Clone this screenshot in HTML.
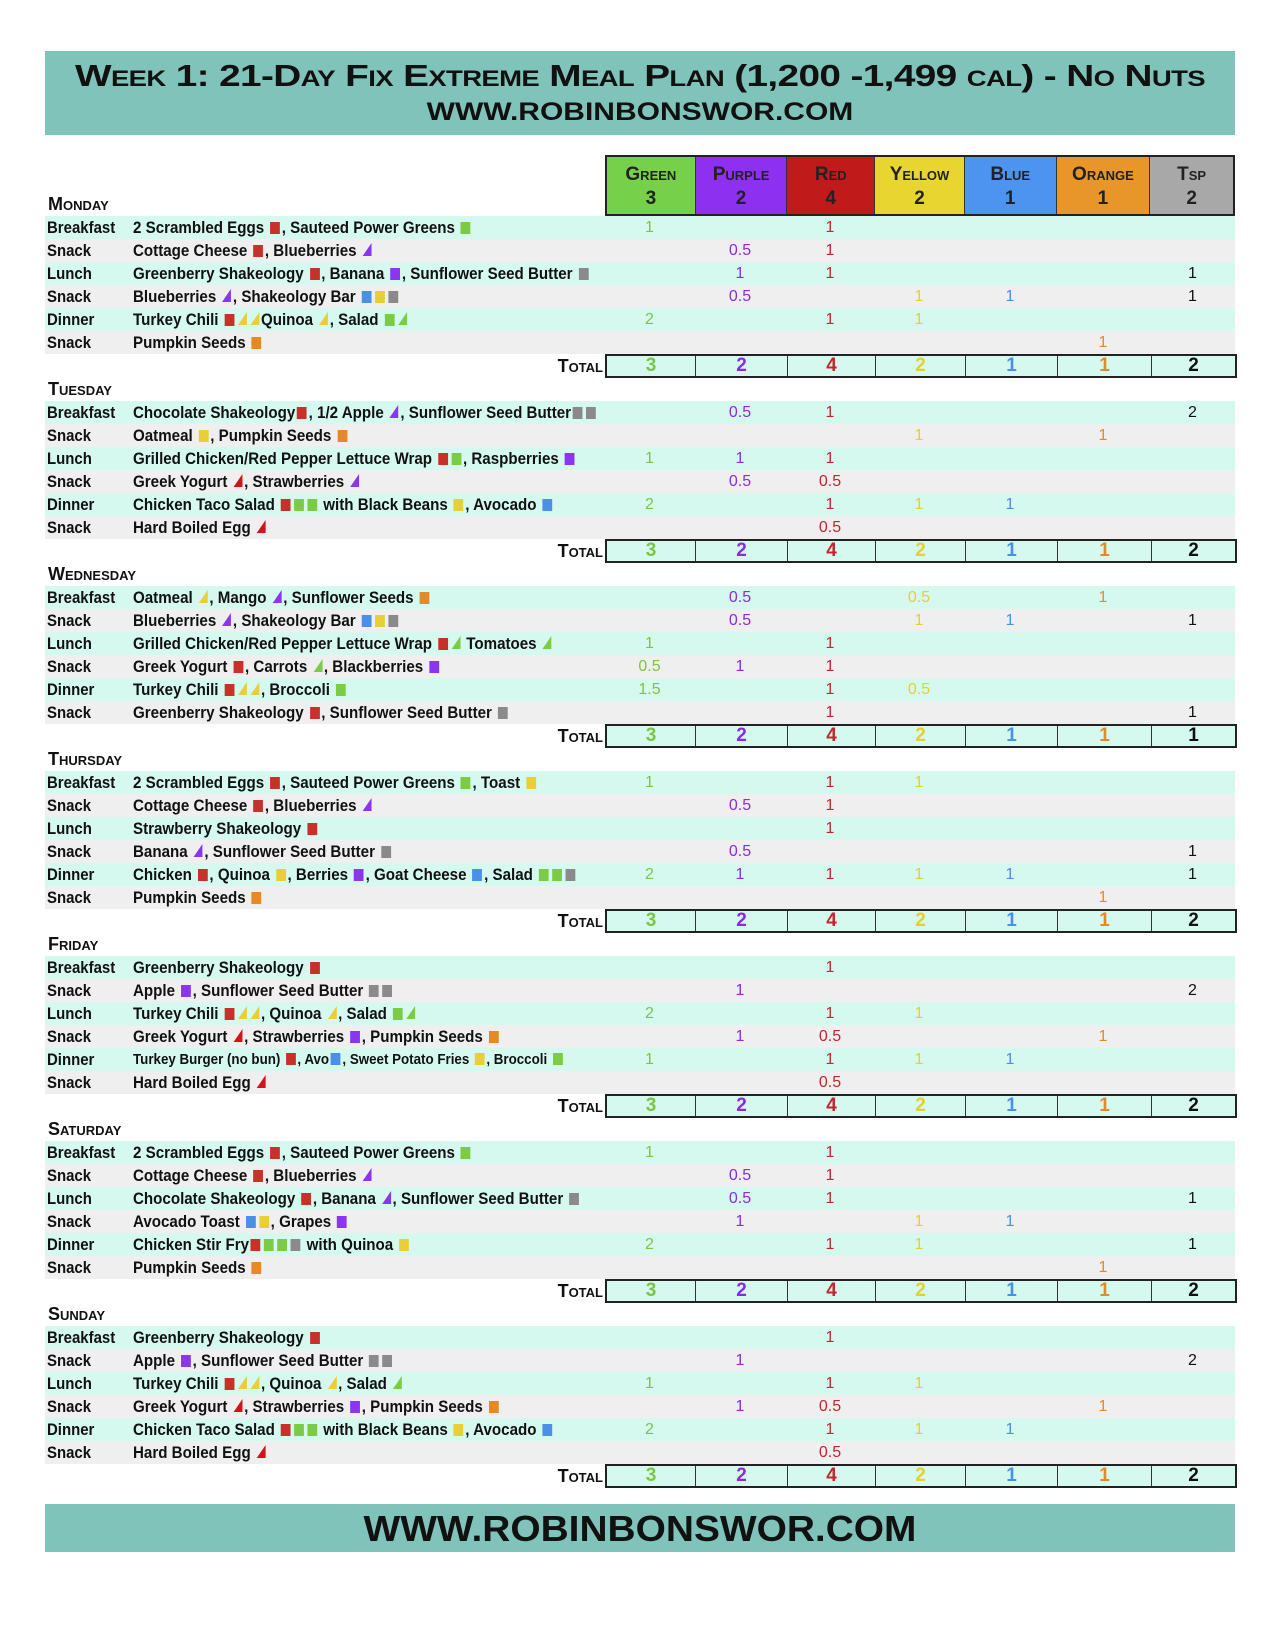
<!DOCTYPE html>
<html><head><meta charset="utf-8"><style>
*{margin:0;padding:0;box-sizing:border-box}
body{width:1275px;height:1650px;background:#fff;position:relative;font-family:"Liberation Sans",sans-serif;overflow:hidden}
.hd{position:absolute;left:45px;top:51px;width:1190px;height:84px;background:#80c3ba;text-align:center;color:#111;font-family:"Liberation Sans",sans-serif;font-weight:bold;font-variant:small-caps}
.hd .a{font-size:31px;line-height:34px;padding-top:8px;letter-spacing:-0.5px;white-space:nowrap;transform:scaleX(1.25)}
.hd .b{font-size:25px;line-height:30px;padding-top:4px;transform:scaleX(1.2)}
.ft{position:absolute;left:45px;top:1504px;width:1190px;height:48px;background:#80c3ba;text-align:center;font-family:"Liberation Sans",sans-serif;font-weight:bold;font-size:36px;line-height:50px;color:#111}
.ft span{display:inline-block;transform:scaleX(1.08)}
.ch{position:absolute;left:605px;top:155px;width:630px;height:61px;display:flex;border:2px solid #222}
.ch div{height:100%;text-align:center;font-family:"Liberation Sans",sans-serif;font-weight:bold;font-variant:small-caps;font-size:19px;line-height:24px;padding-top:6px;color:#222;border-right:1px solid #333}
.ch div:last-child{border-right:none}
#tbl{position:absolute;left:45px;top:193px;width:1190px}
.d{height:23px;font-family:"Liberation Sans",sans-serif;font-weight:bold;font-variant:small-caps;font-size:18px;line-height:23px;padding-left:3px;color:#111}
.r{height:23px;position:relative;font-size:17px;font-weight:bold;line-height:23px;color:#111}
.m{background:#d6f9ef}.y{background:#efefef}
.r .l{position:absolute;left:2px;transform:scaleX(0.88);transform-origin:0 50%}
.r .tx{position:absolute;left:88px;white-space:nowrap;transform:scaleX(0.89);transform-origin:0 50%}
.r .tx.s{font-size:15px}
.cs{position:absolute;left:560px;top:0;display:flex;height:23px}
.cs span,.tt span{display:block;text-align:center}
.w1{width:89px}.w2{width:92px}.w3{width:88px}.w4{width:90px}.w5{width:92px}.w6{width:94px}.w7{width:85px}
.cs span{font-weight:normal;font-size:16px}
.G{color:#7cc443}.P{color:#8a2be2}.R{color:#c1272d}.Y{color:#e6cf2e}.B{color:#4a8fe8}.O{color:#e4892a}.K{color:#111}
.tr{height:24px;position:relative}
.tr .lab{position:absolute;right:632px;top:0;font-family:"Liberation Sans",sans-serif;font-weight:bold;font-variant:small-caps;font-size:18px;line-height:24px;color:#111}
.tt{position:absolute;left:560px;top:0;height:24px;display:flex;border:2px solid #222;background:#d6f9ef}
.tt span{border-right:1px solid #333;font-family:"Liberation Sans",sans-serif;font-weight:bold;font-size:19px;line-height:20px}
.tt span:last-child{border-right:none}
i{display:inline-block;width:11px;height:12px;margin:0 2px;vertical-align:-1px}
i.r_{background:#c8312a}i.g_{background:#7ccb45}i.p_{background:#8a35f0}i.b_{background:#4a8fe8}i.y_{background:#e8cf35}i.o_{background:#e4892a}i.x_{background:#8a8a8a}
em.q{display:inline-block;width:0;height:0;border-left:10px solid transparent;border-bottom:13px solid;margin:0 2px;vertical-align:0}
em.tp{border-bottom-color:#8a35f0}em.ty{border-bottom-color:#e8cf35}em.tg{border-bottom-color:#7ccb45}em.tr_{border-bottom-color:#d0141c}
</style></head><body>
<div class="hd"><div class="a">Week 1: 21-Day Fix Extreme Meal Plan (1,200 -1,499 cal) - No Nuts</div><div class="b">WWW.ROBINBONSWOR.COM</div></div>
<div class="ch"><div class="w1" style="background:#77d04a">Green<br>3</div><div class="w2" style="background:#8e30f0">Purple<br>2</div><div class="w3" style="background:#c11a1a">Red<br>4</div><div class="w4" style="background:#e8d52f">Yellow<br>2</div><div class="w5" style="background:#4d94f0">Blue<br>1</div><div class="w6" style="background:#e8962a">Orange<br>1</div><div class="w7" style="background:#a8a8a8;width:83px">Tsp<br>2</div></div>
<div id="tbl">
<div class="d">Monday</div>
<div class="r m"><span class="l">Breakfast</span><span class="tx">2 Scrambled Eggs <i class="r_"></i>, Sauteed Power Greens <i class="g_"></i></span><div class="cs"><span class="w1 G">1</span><span class="w2"></span><span class="w3 R">1</span><span class="w4"></span><span class="w5"></span><span class="w6"></span><span class="w7"></span></div></div>
<div class="r y"><span class="l">Snack</span><span class="tx">Cottage Cheese <i class="r_"></i>, Blueberries <em class="q tp"></em></span><div class="cs"><span class="w1"></span><span class="w2 P">0.5</span><span class="w3 R">1</span><span class="w4"></span><span class="w5"></span><span class="w6"></span><span class="w7"></span></div></div>
<div class="r m"><span class="l">Lunch</span><span class="tx">Greenberry Shakeology <i class="r_"></i>, Banana <i class="p_"></i>, Sunflower Seed Butter <i class="x_"></i></span><div class="cs"><span class="w1"></span><span class="w2 P">1</span><span class="w3 R">1</span><span class="w4"></span><span class="w5"></span><span class="w6"></span><span class="w7 K">1</span></div></div>
<div class="r y"><span class="l">Snack</span><span class="tx">Blueberries <em class="q tp"></em>, Shakeology Bar <i class="b_"></i><i class="y_"></i><i class="x_"></i></span><div class="cs"><span class="w1"></span><span class="w2 P">0.5</span><span class="w3"></span><span class="w4 Y">1</span><span class="w5 B">1</span><span class="w6"></span><span class="w7 K">1</span></div></div>
<div class="r m"><span class="l">Dinner</span><span class="tx">Turkey Chili <i class="r_"></i><em class="q ty"></em><em class="q ty"></em>Quinoa <em class="q ty"></em>, Salad <i class="g_"></i><em class="q tg"></em></span><div class="cs"><span class="w1 G">2</span><span class="w2"></span><span class="w3 R">1</span><span class="w4 Y">1</span><span class="w5"></span><span class="w6"></span><span class="w7"></span></div></div>
<div class="r y"><span class="l">Snack</span><span class="tx">Pumpkin Seeds <i class="o_"></i></span><div class="cs"><span class="w1"></span><span class="w2"></span><span class="w3"></span><span class="w4"></span><span class="w5"></span><span class="w6 O">1</span><span class="w7"></span></div></div>
<div class="tr"><span class="lab">Total</span><div class="tt"><span class="w1 G">3</span><span class="w2 P">2</span><span class="w3 R">4</span><span class="w4 Y">2</span><span class="w5 B">1</span><span class="w6 O">1</span><span class="w7 K" style="width:83px">2</span></div></div>

<div class="d">Tuesday</div>
<div class="r m"><span class="l">Breakfast</span><span class="tx">Chocolate Shakeology<i class="r_"></i>, 1/2 Apple <em class="q tp"></em>, Sunflower Seed Butter<i class="x_"></i><i class="x_"></i></span><div class="cs"><span class="w1"></span><span class="w2 P">0.5</span><span class="w3 R">1</span><span class="w4"></span><span class="w5"></span><span class="w6"></span><span class="w7 K">2</span></div></div>
<div class="r y"><span class="l">Snack</span><span class="tx">Oatmeal <i class="y_"></i>, Pumpkin Seeds <i class="o_"></i></span><div class="cs"><span class="w1"></span><span class="w2"></span><span class="w3"></span><span class="w4 Y">1</span><span class="w5"></span><span class="w6 O">1</span><span class="w7"></span></div></div>
<div class="r m"><span class="l">Lunch</span><span class="tx">Grilled Chicken/Red Pepper Lettuce Wrap <i class="r_"></i><i class="g_"></i>, Raspberries <i class="p_"></i></span><div class="cs"><span class="w1 G">1</span><span class="w2 P">1</span><span class="w3 R">1</span><span class="w4"></span><span class="w5"></span><span class="w6"></span><span class="w7"></span></div></div>
<div class="r y"><span class="l">Snack</span><span class="tx">Greek Yogurt <em class="q tr_"></em>, Strawberries <em class="q tp"></em></span><div class="cs"><span class="w1"></span><span class="w2 P">0.5</span><span class="w3 R">0.5</span><span class="w4"></span><span class="w5"></span><span class="w6"></span><span class="w7"></span></div></div>
<div class="r m"><span class="l">Dinner</span><span class="tx">Chicken Taco Salad <i class="r_"></i><i class="g_"></i><i class="g_"></i> with Black Beans <i class="y_"></i>, Avocado <i class="b_"></i></span><div class="cs"><span class="w1 G">2</span><span class="w2"></span><span class="w3 R">1</span><span class="w4 Y">1</span><span class="w5 B">1</span><span class="w6"></span><span class="w7"></span></div></div>
<div class="r y"><span class="l">Snack</span><span class="tx">Hard Boiled Egg <em class="q tr_"></em></span><div class="cs"><span class="w1"></span><span class="w2"></span><span class="w3 R">0.5</span><span class="w4"></span><span class="w5"></span><span class="w6"></span><span class="w7"></span></div></div>
<div class="tr"><span class="lab">Total</span><div class="tt"><span class="w1 G">3</span><span class="w2 P">2</span><span class="w3 R">4</span><span class="w4 Y">2</span><span class="w5 B">1</span><span class="w6 O">1</span><span class="w7 K" style="width:83px">2</span></div></div>

<div class="d">Wednesday</div>
<div class="r m"><span class="l">Breakfast</span><span class="tx">Oatmeal <em class="q ty"></em>, Mango <em class="q tp"></em>, Sunflower Seeds <i class="o_"></i></span><div class="cs"><span class="w1"></span><span class="w2 P">0.5</span><span class="w3"></span><span class="w4 Y">0.5</span><span class="w5"></span><span class="w6 O">1</span><span class="w7"></span></div></div>
<div class="r y"><span class="l">Snack</span><span class="tx">Blueberries <em class="q tp"></em>, Shakeology Bar <i class="b_"></i><i class="y_"></i><i class="x_"></i></span><div class="cs"><span class="w1"></span><span class="w2 P">0.5</span><span class="w3"></span><span class="w4 Y">1</span><span class="w5 B">1</span><span class="w6"></span><span class="w7 K">1</span></div></div>
<div class="r m"><span class="l">Lunch</span><span class="tx">Grilled Chicken/Red Pepper Lettuce Wrap <i class="r_"></i><em class="q tg"></em> Tomatoes <em class="q tg"></em></span><div class="cs"><span class="w1 G">1</span><span class="w2"></span><span class="w3 R">1</span><span class="w4"></span><span class="w5"></span><span class="w6"></span><span class="w7"></span></div></div>
<div class="r y"><span class="l">Snack</span><span class="tx">Greek Yogurt <i class="r_"></i>, Carrots <em class="q tg"></em>, Blackberries <i class="p_"></i></span><div class="cs"><span class="w1 G">0.5</span><span class="w2 P">1</span><span class="w3 R">1</span><span class="w4"></span><span class="w5"></span><span class="w6"></span><span class="w7"></span></div></div>
<div class="r m"><span class="l">Dinner</span><span class="tx">Turkey Chili <i class="r_"></i><em class="q ty"></em><em class="q ty"></em>, Broccoli <i class="g_"></i></span><div class="cs"><span class="w1 G">1.5</span><span class="w2"></span><span class="w3 R">1</span><span class="w4 Y">0.5</span><span class="w5"></span><span class="w6"></span><span class="w7"></span></div></div>
<div class="r y"><span class="l">Snack</span><span class="tx">Greenberry Shakeology <i class="r_"></i>, Sunflower Seed Butter <i class="x_"></i></span><div class="cs"><span class="w1"></span><span class="w2"></span><span class="w3 R">1</span><span class="w4"></span><span class="w5"></span><span class="w6"></span><span class="w7 K">1</span></div></div>
<div class="tr"><span class="lab">Total</span><div class="tt"><span class="w1 G">3</span><span class="w2 P">2</span><span class="w3 R">4</span><span class="w4 Y">2</span><span class="w5 B">1</span><span class="w6 O">1</span><span class="w7 K" style="width:83px">1</span></div></div>

<div class="d">Thursday</div>
<div class="r m"><span class="l">Breakfast</span><span class="tx">2 Scrambled Eggs <i class="r_"></i>, Sauteed Power Greens <i class="g_"></i>, Toast <i class="y_"></i></span><div class="cs"><span class="w1 G">1</span><span class="w2"></span><span class="w3 R">1</span><span class="w4 Y">1</span><span class="w5"></span><span class="w6"></span><span class="w7"></span></div></div>
<div class="r y"><span class="l">Snack</span><span class="tx">Cottage Cheese <i class="r_"></i>, Blueberries <em class="q tp"></em></span><div class="cs"><span class="w1"></span><span class="w2 P">0.5</span><span class="w3 R">1</span><span class="w4"></span><span class="w5"></span><span class="w6"></span><span class="w7"></span></div></div>
<div class="r m"><span class="l">Lunch</span><span class="tx">Strawberry Shakeology <i class="r_"></i></span><div class="cs"><span class="w1"></span><span class="w2"></span><span class="w3 R">1</span><span class="w4"></span><span class="w5"></span><span class="w6"></span><span class="w7"></span></div></div>
<div class="r y"><span class="l">Snack</span><span class="tx">Banana <em class="q tp"></em>, Sunflower Seed Butter <i class="x_"></i></span><div class="cs"><span class="w1"></span><span class="w2 P">0.5</span><span class="w3"></span><span class="w4"></span><span class="w5"></span><span class="w6"></span><span class="w7 K">1</span></div></div>
<div class="r m"><span class="l">Dinner</span><span class="tx">Chicken <i class="r_"></i>, Quinoa <i class="y_"></i>, Berries <i class="p_"></i>, Goat Cheese <i class="b_"></i>, Salad <i class="g_"></i><i class="g_"></i><i class="x_"></i></span><div class="cs"><span class="w1 G">2</span><span class="w2 P">1</span><span class="w3 R">1</span><span class="w4 Y">1</span><span class="w5 B">1</span><span class="w6"></span><span class="w7 K">1</span></div></div>
<div class="r y"><span class="l">Snack</span><span class="tx">Pumpkin Seeds <i class="o_"></i></span><div class="cs"><span class="w1"></span><span class="w2"></span><span class="w3"></span><span class="w4"></span><span class="w5"></span><span class="w6 O">1</span><span class="w7"></span></div></div>
<div class="tr"><span class="lab">Total</span><div class="tt"><span class="w1 G">3</span><span class="w2 P">2</span><span class="w3 R">4</span><span class="w4 Y">2</span><span class="w5 B">1</span><span class="w6 O">1</span><span class="w7 K" style="width:83px">2</span></div></div>

<div class="d">Friday</div>
<div class="r m"><span class="l">Breakfast</span><span class="tx">Greenberry Shakeology <i class="r_"></i></span><div class="cs"><span class="w1"></span><span class="w2"></span><span class="w3 R">1</span><span class="w4"></span><span class="w5"></span><span class="w6"></span><span class="w7"></span></div></div>
<div class="r y"><span class="l">Snack</span><span class="tx">Apple <i class="p_"></i>, Sunflower Seed Butter <i class="x_"></i><i class="x_"></i></span><div class="cs"><span class="w1"></span><span class="w2 P">1</span><span class="w3"></span><span class="w4"></span><span class="w5"></span><span class="w6"></span><span class="w7 K">2</span></div></div>
<div class="r m"><span class="l">Lunch</span><span class="tx">Turkey Chili <i class="r_"></i><em class="q ty"></em><em class="q ty"></em>, Quinoa <em class="q ty"></em>, Salad <i class="g_"></i><em class="q tg"></em></span><div class="cs"><span class="w1 G">2</span><span class="w2"></span><span class="w3 R">1</span><span class="w4 Y">1</span><span class="w5"></span><span class="w6"></span><span class="w7"></span></div></div>
<div class="r y"><span class="l">Snack</span><span class="tx">Greek Yogurt <em class="q tr_"></em>, Strawberries <i class="p_"></i>, Pumpkin Seeds <i class="o_"></i></span><div class="cs"><span class="w1"></span><span class="w2 P">1</span><span class="w3 R">0.5</span><span class="w4"></span><span class="w5"></span><span class="w6 O">1</span><span class="w7"></span></div></div>
<div class="r m"><span class="l">Dinner</span><span class="tx s">Turkey Burger (no bun) <i class="r_"></i>, Avo<i class="b_"></i>, Sweet Potato Fries <i class="y_"></i>, Broccoli <i class="g_"></i></span><div class="cs"><span class="w1 G">1</span><span class="w2"></span><span class="w3 R">1</span><span class="w4 Y">1</span><span class="w5 B">1</span><span class="w6"></span><span class="w7"></span></div></div>
<div class="r y"><span class="l">Snack</span><span class="tx">Hard Boiled Egg <em class="q tr_"></em></span><div class="cs"><span class="w1"></span><span class="w2"></span><span class="w3 R">0.5</span><span class="w4"></span><span class="w5"></span><span class="w6"></span><span class="w7"></span></div></div>
<div class="tr"><span class="lab">Total</span><div class="tt"><span class="w1 G">3</span><span class="w2 P">2</span><span class="w3 R">4</span><span class="w4 Y">2</span><span class="w5 B">1</span><span class="w6 O">1</span><span class="w7 K" style="width:83px">2</span></div></div>

<div class="d">Saturday</div>
<div class="r m"><span class="l">Breakfast</span><span class="tx">2 Scrambled Eggs <i class="r_"></i>, Sauteed Power Greens <i class="g_"></i></span><div class="cs"><span class="w1 G">1</span><span class="w2"></span><span class="w3 R">1</span><span class="w4"></span><span class="w5"></span><span class="w6"></span><span class="w7"></span></div></div>
<div class="r y"><span class="l">Snack</span><span class="tx">Cottage Cheese <i class="r_"></i>, Blueberries <em class="q tp"></em></span><div class="cs"><span class="w1"></span><span class="w2 P">0.5</span><span class="w3 R">1</span><span class="w4"></span><span class="w5"></span><span class="w6"></span><span class="w7"></span></div></div>
<div class="r m"><span class="l">Lunch</span><span class="tx">Chocolate Shakeology <i class="r_"></i>, Banana <em class="q tp"></em>, Sunflower Seed Butter <i class="x_"></i></span><div class="cs"><span class="w1"></span><span class="w2 P">0.5</span><span class="w3 R">1</span><span class="w4"></span><span class="w5"></span><span class="w6"></span><span class="w7 K">1</span></div></div>
<div class="r y"><span class="l">Snack</span><span class="tx">Avocado Toast <i class="b_"></i><i class="y_"></i>, Grapes <i class="p_"></i></span><div class="cs"><span class="w1"></span><span class="w2 P">1</span><span class="w3"></span><span class="w4 Y">1</span><span class="w5 B">1</span><span class="w6"></span><span class="w7"></span></div></div>
<div class="r m"><span class="l">Dinner</span><span class="tx">Chicken Stir Fry<i class="r_"></i><i class="g_"></i><i class="g_"></i><i class="x_"></i> with Quinoa <i class="y_"></i></span><div class="cs"><span class="w1 G">2</span><span class="w2"></span><span class="w3 R">1</span><span class="w4 Y">1</span><span class="w5"></span><span class="w6"></span><span class="w7 K">1</span></div></div>
<div class="r y"><span class="l">Snack</span><span class="tx">Pumpkin Seeds <i class="o_"></i></span><div class="cs"><span class="w1"></span><span class="w2"></span><span class="w3"></span><span class="w4"></span><span class="w5"></span><span class="w6 O">1</span><span class="w7"></span></div></div>
<div class="tr"><span class="lab">Total</span><div class="tt"><span class="w1 G">3</span><span class="w2 P">2</span><span class="w3 R">4</span><span class="w4 Y">2</span><span class="w5 B">1</span><span class="w6 O">1</span><span class="w7 K" style="width:83px">2</span></div></div>

<div class="d">Sunday</div>
<div class="r m"><span class="l">Breakfast</span><span class="tx">Greenberry Shakeology <i class="r_"></i></span><div class="cs"><span class="w1"></span><span class="w2"></span><span class="w3 R">1</span><span class="w4"></span><span class="w5"></span><span class="w6"></span><span class="w7"></span></div></div>
<div class="r y"><span class="l">Snack</span><span class="tx">Apple <i class="p_"></i>, Sunflower Seed Butter <i class="x_"></i><i class="x_"></i></span><div class="cs"><span class="w1"></span><span class="w2 P">1</span><span class="w3"></span><span class="w4"></span><span class="w5"></span><span class="w6"></span><span class="w7 K">2</span></div></div>
<div class="r m"><span class="l">Lunch</span><span class="tx">Turkey Chili <i class="r_"></i><em class="q ty"></em><em class="q ty"></em>, Quinoa <em class="q ty"></em>, Salad <em class="q tg"></em></span><div class="cs"><span class="w1 G">1</span><span class="w2"></span><span class="w3 R">1</span><span class="w4 Y">1</span><span class="w5"></span><span class="w6"></span><span class="w7"></span></div></div>
<div class="r y"><span class="l">Snack</span><span class="tx">Greek Yogurt <em class="q tr_"></em>, Strawberries <i class="p_"></i>, Pumpkin Seeds <i class="o_"></i></span><div class="cs"><span class="w1"></span><span class="w2 P">1</span><span class="w3 R">0.5</span><span class="w4"></span><span class="w5"></span><span class="w6 O">1</span><span class="w7"></span></div></div>
<div class="r m"><span class="l">Dinner</span><span class="tx">Chicken Taco Salad <i class="r_"></i><i class="g_"></i><i class="g_"></i> with Black Beans <i class="y_"></i>, Avocado <i class="b_"></i></span><div class="cs"><span class="w1 G">2</span><span class="w2"></span><span class="w3 R">1</span><span class="w4 Y">1</span><span class="w5 B">1</span><span class="w6"></span><span class="w7"></span></div></div>
<div class="r y"><span class="l">Snack</span><span class="tx">Hard Boiled Egg <em class="q tr_"></em></span><div class="cs"><span class="w1"></span><span class="w2"></span><span class="w3 R">0.5</span><span class="w4"></span><span class="w5"></span><span class="w6"></span><span class="w7"></span></div></div>
<div class="tr"><span class="lab">Total</span><div class="tt"><span class="w1 G">3</span><span class="w2 P">2</span><span class="w3 R">4</span><span class="w4 Y">2</span><span class="w5 B">1</span><span class="w6 O">1</span><span class="w7 K" style="width:83px">2</span></div></div>
</div>
<div class="ft"><span>WWW.ROBINBONSWOR.COM</span></div>
</body></html>
